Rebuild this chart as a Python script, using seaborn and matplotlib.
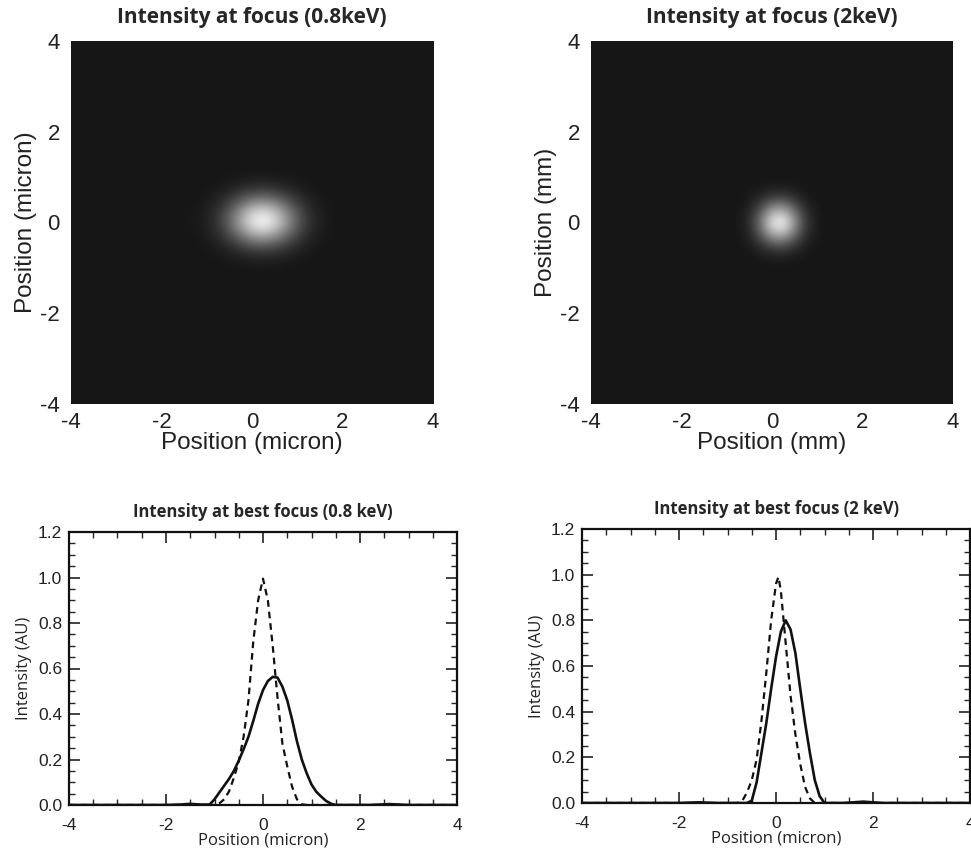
import numpy as np
import pandas as pd
import matplotlib
matplotlib.use("Agg")
import matplotlib.pyplot as plt
from matplotlib.colors import LinearSegmentedColormap
from matplotlib.ticker import MultipleLocator
import seaborn as sns

# ---------------- data ----------------
# focal-spot images: separable profiles (position -> relative intensity)
spot08_x_pos = [-1.5, -1.25, -1.0, -0.75, -0.5, -0.25, 0.0, 0.25, 0.5, 0.75, 1.0, 1.25, 1.5, 1.75]
spot08_x_val = [0.01, 0.014, 0.05, 0.15, 0.35, 0.64, 0.91, 1.0, 0.85, 0.57, 0.30, 0.12, 0.04, 0.01]
spot08_y_pos = [-1.0, -0.75, -0.5, -0.25, 0.0, 0.25, 0.5, 0.75, 1.0]
spot08_y_val = [0.01, 0.073, 0.29, 0.69, 0.99, 0.85, 0.44, 0.135, 0.025]

spot2_x_pos = [-0.75, -0.5, -0.25, 0.0, 0.25, 0.5, 0.75, 1.0]
spot2_x_val = [0.007, 0.089, 0.39, 0.87, 0.956, 0.53, 0.14, 0.02]
spot2_y_pos = [-0.75, -0.5, -0.25, 0.0, 0.25, 0.5, 0.75]
spot2_y_val = [0.04, 0.25, 0.70, 1.0, 0.70, 0.25, 0.04]

# line profiles at best focus, 0.8 keV
x08_solid = [-4.0, -2.0, -1.7, -1.5, -1.3, -1.1, -1.0, -0.9, -0.8, -0.7, -0.6, -0.5, -0.4, -0.3,
             -0.2, -0.1, 0.0, 0.1, 0.2, 0.3, 0.4, 0.5, 0.6, 0.7, 0.8, 0.9, 1.0, 1.1, 1.2, 1.3,
             1.4, 1.5, 2.2, 2.6, 3.0, 4.0]
y08_solid = [0.0, 0.0, 0.002, 0.005, 0.002, 0.002, 0.025, 0.055, 0.085, 0.115, 0.15, 0.195, 0.245, 0.30,
             0.37, 0.445, 0.505, 0.545, 0.563, 0.56, 0.52, 0.46, 0.375, 0.28, 0.20, 0.14, 0.09, 0.058, 0.037, 0.018,
             0.006, 0.0, 0.0, 0.004, 0.0, 0.0]
x08_dash = [-4.0, -1.0, -0.9, -0.8, -0.7, -0.6, -0.5, -0.4, -0.3, -0.2, -0.1, 0.0, 0.1, 0.2, 0.3,
            0.4, 0.5, 0.6, 0.7, 0.8, 0.9, 4.0]
y08_dash = [0.0, 0.0, 0.007, 0.025, 0.06, 0.12, 0.19, 0.30, 0.46, 0.72, 0.90, 0.995, 0.90, 0.70, 0.47,
            0.27, 0.17, 0.08, 0.025, 0.003, 0.0, 0.0]

# line profiles at best focus, 2 keV
x2_solid = [-4.0, -2.0, -1.6, -1.2, -0.6, -0.5, -0.4, -0.3, -0.2, -0.1, 0.0, 0.1, 0.2, 0.3, 0.4,
            0.5, 0.6, 0.7, 0.8, 0.9, 1.0, 1.4, 1.8, 2.2, 4.0]
y2_solid = [0.0, 0.0, 0.003, 0.0, 0.0, 0.01, 0.09, 0.22, 0.35, 0.50, 0.64, 0.75, 0.80, 0.76, 0.656,
            0.50, 0.35, 0.218, 0.10, 0.03, 0.0, 0.0, 0.006, 0.0, 0.0]
x2_dash = [-4.0, -0.8, -0.7, -0.6, -0.5, -0.4, -0.3, -0.2, -0.1, 0.0, 0.05, 0.1, 0.2, 0.3, 0.4,
           0.5, 0.6, 0.7, 0.8, 4.0]
y2_dash = [0.0, 0.0, 0.008, 0.045, 0.10, 0.19, 0.36, 0.57, 0.80, 0.96, 0.99, 0.93, 0.70, 0.47, 0.30,
           0.17, 0.07, 0.02, 0.0, 0.0]

tick_vals = [-4, -2, 0, 2, 4]
tick_labels = ["-4", "-2", "0", "2", "4"]

titles_top = ["Intensity at focus (0.8keV)", "Intensity at focus (2keV)"]
xlabels_top = ["Position (micron)", "Position (mm)"]
ylabels_top = ["Position (micron)", "Position (mm)"]
titles_bot = ["Intensity at best focus (0.8 keV)", "Intensity at best focus (2 keV)"]

# ---------------- style ----------------
sns.set_theme(style="ticks")
plt.rcParams["font.family"] = ["Liberation Sans", "DejaVu Sans"]
plt.rcParams["axes.linewidth"] = 1.5

W, H = 971, 852
fig = plt.figure(figsize=(W / 100, H / 100), dpi=100)

def frac(l, t, r, b):
    return [l / W, 1 - b / H, (r - l) / W, (b - t) / H]

ax_tl = fig.add_axes(frac(71, 41, 433, 404))
ax_tr = fig.add_axes(frac(591, 41, 953, 404))
ax_bl = fig.add_axes(frac(69, 532, 457, 805))
ax_br = fig.add_axes(frac(582, 529, 970, 803))

grid = np.round(np.arange(-4, 4.001, 0.25), 2)

def profile(pos, val):
    p = np.zeros(len(grid))
    for x, v in zip(pos, val):
        p[np.argmin(np.abs(grid - x))] = v
    return p

cmap = LinearSegmentedColormap.from_list("spot", ["#161616", "#ffffff"])

images = [
    np.outer(profile(spot08_y_pos, spot08_y_val), profile(spot08_x_pos, spot08_x_val)),
    np.outer(profile(spot2_y_pos, spot2_y_val), profile(spot2_x_pos, spot2_x_val)),
]

for ax, img, t, xl, yl in zip([ax_tl, ax_tr], images, titles_top, xlabels_top, ylabels_top):
    ax.imshow(img, origin="lower", cmap=cmap, vmin=0, vmax=img.max(),
              extent=(-4.125, 4.125, -4.125, 4.125), interpolation="bicubic", aspect="auto")
    ax.set_xlim(-4, 4)
    ax.set_ylim(-4, 4)
    ax.set_xticks(tick_vals)
    ax.set_xticklabels(tick_labels)
    ax.set_yticks(tick_vals)
    ax.set_yticklabels(tick_labels)
    ax.tick_params(axis="x", length=0, labelsize=16, pad=6, colors="#222222")
    ax.tick_params(axis="y", length=0, labelsize=16, pad=8, colors="#222222")
    for s in ax.spines.values():
        s.set_visible(False)
    ax.set_title(t, fontsize=15, fontweight="bold", family=["Open Sans", "DejaVu Sans"], pad=13)
    ax.set_xlabel(xl, fontsize=17.5, labelpad=-1, color="#222222")
    ax.set_ylabel(yl, fontsize=17.5, labelpad=2, color="#222222")

profiles = [
    (x08_solid, y08_solid, x08_dash, y08_dash),
    (x2_solid, y2_solid, x2_dash, y2_dash),
]

for ax, (xs, ys, xd, yd), t in zip([ax_bl, ax_br], profiles, titles_bot):
    sns.lineplot(x=xd, y=yd, ax=ax, color="#111111", linewidth=1.6, linestyle=(0, (3, 2.2)), sort=False)
    sns.lineplot(x=xs, y=ys, ax=ax, color="#111111", linewidth=1.9, sort=False)
    ax.set_xlim(-4, 4)
    ax.set_ylim(0, 1.2)
    ax.xaxis.set_major_locator(MultipleLocator(2))
    ax.xaxis.set_minor_locator(MultipleLocator(0.5))
    ax.yaxis.set_major_locator(MultipleLocator(0.2))
    ax.yaxis.set_minor_locator(MultipleLocator(0.05))
    ax.yaxis.set_major_formatter(matplotlib.ticker.FormatStrFormatter("%.1f"))
    ax.xaxis.set_major_formatter(matplotlib.ticker.FormatStrFormatter("%d"))
    ax.tick_params(which="major", direction="in", length=8, width=1.2, top=True, right=True,
                   labelsize=12.5, colors="#222222")
    ax.tick_params(axis="x", which="major", pad=9)
    ax.tick_params(axis="y", which="major", pad=5)
    ax.tick_params(which="minor", direction="in", length=4, width=1.0, top=True, right=True)
    for s in ax.spines.values():
        s.set_color("#111111")
        s.set_linewidth(1.6)
    ax.set_title(t, fontsize=12, fontweight="bold", family=["Open Sans", "DejaVu Sans"], pad=11)
    ax.set_xlabel("Position (micron)", fontsize=12, family=["Open Sans", "DejaVu Sans"],
                  labelpad=0, color="#222222")
    ax.set_ylabel("Intensity (AU)", fontsize=12, family=["Open Sans", "DejaVu Sans"],
                  labelpad=4, color="#222222")

fig.savefig("out.png", dpi=100)
